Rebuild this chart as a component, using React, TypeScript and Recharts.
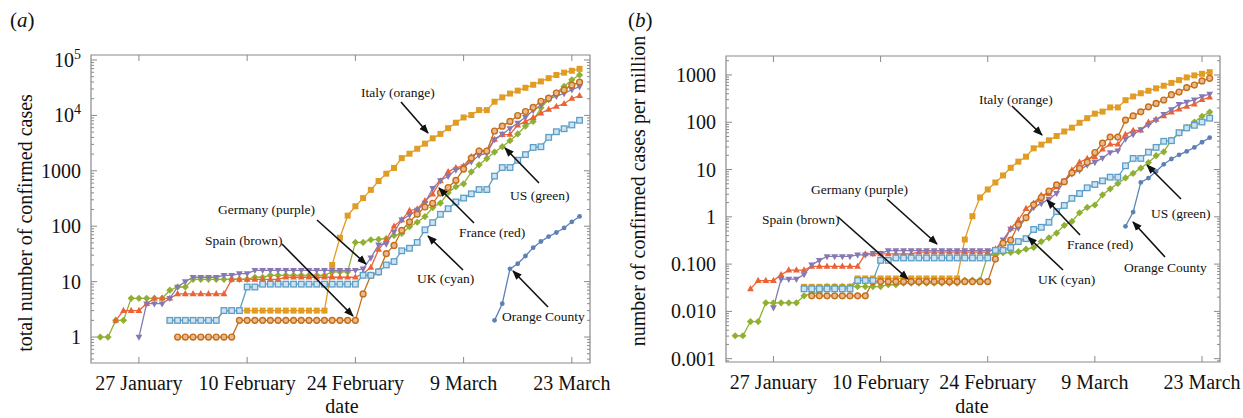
import { Line, LineChart, ReferenceArea, XAxis, YAxis } from "recharts"

const _ = null

// day index 0 = 22 January 2020 ... 62 = 24 March 2020
const DAYS = Array.from({ length: 63 }, (v, i) => i)

const X_TICKS = [5, 19, 33, 47, 61]
const X_LABELS = ["27 January", "10 February", "24 February", "9 March", "23 March"]

// ---- total confirmed cases ----
const OC_TOTAL = [
  _, _, _, _, _, _, _, _, _, _,
  _, _, _, _, _, _, _, _, _, _,
  _, _, _, _, _, _, _, _, _, _,
  _, _, _, _, _, _, _, _, _, _,
  _, _, _, _, _, _, _, _, _, _,
  _, 2, 4, 17, 21, 29, 41, 53, 65, 77,
  93, 120, 150,
]
const ITALY_TOTAL = [
  _, _, _, _, _, _, _, _, _, 2,
  2, 2, 2, 2, 2, 2, 3, 3, 3, 3,
  3, 3, 3, 3, 3, 3, 3, 3, 3, 3,
  20, 62, 155, 229, 322, 453, 655, 888, 1128, 1694,
  2036, 2502, 3089, 3858, 4636, 5883, 7375, 9172, 10149, 12462,
  12462, 17660, 21157, 24747, 27980, 31506, 35713, 41035, 47021, 53578,
  59138, 63927, 69176,
]
const US_TOTAL = [
  1, 1, 2, 2, 5, 5, 5, 5, 5, 7,
  8, 8, 11, 11, 11, 11, 11, 11, 11, 11,
  12, 12, 13, 13, 13, 13, 13, 13, 13, 13,
  15, 15, 15, 51, 51, 57, 58, 60, 68, 74,
  98, 118, 149, 217, 262, 402, 518, 583, 959, 1281,
  1663, 2179, 2726, 3499, 4632, 6421, 7783, 13747, 19273, 25600,
  33276, 43847, 53740,
]
const FRANCE_TOTAL = [
  _, _, 2, 3, 3, 3, 4, 5, 5, 5,
  6, 6, 6, 6, 6, 6, 6, 11, 11, 11,
  11, 11, 11, 11, 12, 12, 12, 12, 12, 12,
  12, 12, 12, 12, 14, 18, 38, 57, 100, 130,
  191, 204, 288, 380, 656, 959, 1136, 1219, 1794, 2293,
  2293, 3681, 4496, 4532, 6683, 7715, 9124, 10970, 12758, 14463,
  16243, 20123, 22622,
]
const GERMANY_TOTAL = [
  _, _, _, _, _, 1, 4, 4, 4, 5,
  8, 10, 12, 12, 12, 12, 13, 13, 14, 14,
  16, 16, 16, 16, 16, 16, 16, 16, 16, 16,
  16, 16, 16, 16, 17, 27, 46, 48, 79, 130,
  159, 196, 262, 482, 670, 799, 1040, 1176, 1457, 1908,
  2078, 3675, 4585, 5795, 7272, 9257, 12327, 15320, 19848, 22213,
  24873, 29056, 32986,
]
const SPAIN_TOTAL = [
  _, _, _, _, _, _, _, _, _, _,
  1, 1, 1, 1, 1, 1, 1, 1, 2, 2,
  2, 2, 2, 2, 2, 2, 2, 2, 2, 2,
  2, 2, 2, 2, 6, 13, 15, 32, 45, 84,
  120, 165, 222, 259, 400, 500, 673, 1073, 1695, 2277,
  2277, 5232, 6391, 7798, 9942, 11748, 13910, 17963, 20410, 25374,
  28768, 35136, 39885,
]
const UK_TOTAL = [
  _, _, _, _, _, _, _, _, _, 2,
  2, 2, 2, 2, 2, 2, 3, 3, 3, 8,
  8, 9, 9, 9, 9, 9, 9, 9, 9, 9,
  9, 9, 9, 9, 13, 13, 15, 20, 23, 36,
  40, 51, 86, 116, 164, 207, 274, 322, 384, 459,
  459, 802, 1144, 1145, 1551, 1960, 2642, 2716, 4014, 5067,
  5745, 6726, 8164,
]

// ---- confirmed cases per million ----
const OC_PM = [
  _, _, _, _, _, _, _, _, _, _,
  _, _, _, _, _, _, _, _, _, _,
  _, _, _, _, _, _, _, _, _, _,
  _, _, _, _, _, _, _, _, _, _,
  _, _, _, _, _, _, _, _, _, _,
  _, 0.63, 1.26, 5.35, 6.61, 9.13, 12.9, 16.7, 20.5, 24.2,
  29.3, 37.8, 47.2,
]
const ITALY_PM = [
  _, _, _, _, _, _, _, _, _, 0.0331,
  0.0331, 0.0331, 0.0331, 0.0331, 0.0331, 0.0331, 0.0497, 0.0497, 0.0497, 0.0497,
  0.0497, 0.0497, 0.0497, 0.0497, 0.0497, 0.0497, 0.0497, 0.0497, 0.0497, 0.0497,
  0.331, 1.03, 2.57, 3.79, 5.33, 7.5, 10.9, 14.7, 18.7, 28.1,
  33.7, 41.5, 51.2, 63.9, 76.8, 97.5, 122, 152, 168, 206,
  206, 293, 351, 410, 464, 522, 592, 680, 779, 888,
  980, 1059, 1146,
]
const US_PM = [
  0.00305, 0.00305, 0.00609, 0.00609, 0.0152, 0.0152, 0.0152, 0.0152, 0.0152, 0.0213,
  0.0244, 0.0244, 0.0335, 0.0335, 0.0335, 0.0335, 0.0335, 0.0335, 0.0335, 0.0335,
  0.0366, 0.0366, 0.0396, 0.0396, 0.0396, 0.0396, 0.0396, 0.0396, 0.0396, 0.0396,
  0.0457, 0.0457, 0.0457, 0.155, 0.155, 0.174, 0.177, 0.183, 0.207, 0.225,
  0.299, 0.36, 0.454, 0.661, 0.798, 1.22, 1.58, 1.78, 2.92, 3.9,
  5.07, 6.64, 8.31, 10.7, 14.1, 19.6, 23.7, 41.9, 58.7, 78.0,
  101, 134, 164,
]
const FRANCE_PM = [
  _, _, 0.0299, 0.0448, 0.0448, 0.0448, 0.0597, 0.0746, 0.0746, 0.0746,
  0.0896, 0.0896, 0.0896, 0.0896, 0.0896, 0.0896, 0.0896, 0.164, 0.164, 0.164,
  0.164, 0.164, 0.164, 0.164, 0.179, 0.179, 0.179, 0.179, 0.179, 0.179,
  0.179, 0.179, 0.179, 0.179, 0.209, 0.269, 0.567, 0.851, 1.49, 1.94,
  2.85, 3.05, 4.3, 5.67, 9.79, 14.3, 17.0, 18.2, 26.8, 34.2,
  34.2, 54.9, 67.1, 67.7, 99.8, 115, 136, 164, 190, 216,
  242, 300, 338,
]
const GERMANY_PM = [
  _, _, _, _, _, 0.012, 0.0482, 0.0482, 0.0482, 0.0602,
  0.0964, 0.12, 0.145, 0.145, 0.145, 0.145, 0.157, 0.157, 0.169, 0.169,
  0.193, 0.193, 0.193, 0.193, 0.193, 0.193, 0.193, 0.193, 0.193, 0.193,
  0.193, 0.193, 0.193, 0.193, 0.205, 0.325, 0.554, 0.578, 0.952, 1.57,
  1.92, 2.36, 3.16, 5.81, 8.07, 9.62, 12.5, 14.2, 17.6, 23.0,
  25.0, 44.3, 55.2, 69.8, 87.6, 112, 148, 185, 239, 268,
  300, 350, 397,
]
const SPAIN_PM = [
  _, _, _, _, _, _, _, _, _, _,
  0.0213, 0.0213, 0.0213, 0.0213, 0.0213, 0.0213, 0.0213, 0.0213, 0.0426, 0.0426,
  0.0426, 0.0426, 0.0426, 0.0426, 0.0426, 0.0426, 0.0426, 0.0426, 0.0426, 0.0426,
  0.0426, 0.0426, 0.0426, 0.0426, 0.128, 0.277, 0.32, 0.682, 0.959, 1.79,
  2.56, 3.52, 4.73, 5.52, 8.52, 10.7, 14.3, 22.9, 36.1, 48.5,
  48.5, 111, 136, 166, 212, 250, 296, 383, 435, 541,
  613, 749, 850,
]
const UK_PM = [
  _, _, _, _, _, _, _, _, _, 0.03,
  0.03, 0.03, 0.03, 0.03, 0.03, 0.03, 0.045, 0.045, 0.045, 0.12,
  0.12, 0.135, 0.135, 0.135, 0.135, 0.135, 0.135, 0.135, 0.135, 0.135,
  0.135, 0.135, 0.135, 0.135, 0.195, 0.195, 0.225, 0.3, 0.345, 0.54,
  0.6, 0.765, 1.29, 1.74, 2.46, 3.11, 4.11, 4.83, 5.76, 6.89,
  6.89, 12.0, 17.2, 17.2, 23.3, 29.4, 39.6, 40.8, 60.2, 76.0,
  86.2, 101, 122,
]

const LEFT_Y_MAJOR = [1, 10, 100, 1000, 10000, 100000]
const LEFT_Y_LABELS = ["1", "10", "100", "1000", "10^4", "10^5"]
const RIGHT_Y_MAJOR = [0.001, 0.01, 0.1, 1, 10, 100, 1000]
const RIGHT_Y_LABELS = ["0.001", "0.010", "0.100", "1", "10", "100", "1000"]

const leftRows = DAYS.map((day, i) => ({
  day,
  oc: OC_TOTAL[i],
  italy: ITALY_TOTAL[i],
  us: US_TOTAL[i],
  france: FRANCE_TOTAL[i],
  germany: GERMANY_TOTAL[i],
  spain: SPAIN_TOTAL[i],
  uk: UK_TOTAL[i],
}))
const rightRows = DAYS.map((day, i) => ({
  day,
  oc: OC_PM[i],
  italy: ITALY_PM[i],
  us: US_PM[i],
  france: FRANCE_PM[i],
  germany: GERMANY_PM[i],
  spain: SPAIN_PM[i],
  uk: UK_PM[i],
}))

// Mathematica default palette, drawn in this order
const SERIES = [
  { key: "oc", color: "#5E81B5", marker: "circle" },
  { key: "italy", color: "#E19C24", marker: "square" },
  { key: "us", color: "#8FB032", marker: "diamond" },
  { key: "france", color: "#EB6235", marker: "up" },
  { key: "germany", color: "#8778B3", marker: "down" },
  { key: "spain", color: "#C56E1A", marker: "ocircle", light: "#E9B98E" },
  { key: "uk", color: "#5D9EC7", marker: "osquare", light: "#CDE3F2" },
]

const FONT = "'Liberation Serif', 'DejaVu Serif', serif"
const FRAME = "#8a8a8a"
const XMIN = -1.2
const XMAX = 63.35

// minor log ticks between lo and hi
function logTicks(lo: number, hi: number) {
  const out: number[] = []
  for (let e = -4; e <= 6; e++) {
    for (let m = 1; m <= 9; m++) {
      const v = Number((m * Math.pow(10, e)).toPrecision(3))
      if (v >= lo && v <= hi) out.push(v)
    }
  }
  return out
}

const renderDot = (s: any) => (props: any) => {
  const { cx, cy, value, index } = props
  const k = `${s.key}-${index}`
  if (value == null || cx == null || cy == null || Number.isNaN(cy)) return <g key={k} />
  const c = s.color
  switch (s.marker) {
    case "circle":
      return <circle key={k} cx={cx} cy={cy} r={2.4} fill={c} />
    case "square":
      return <rect key={k} x={cx - 3} y={cy - 3} width={6} height={6} fill={c} />
    case "diamond":
      return <polygon key={k} points={`${cx},${cy - 3.6} ${cx + 3.6},${cy} ${cx},${cy + 3.6} ${cx - 3.6},${cy}`} fill={c} />
    case "up":
      return <polygon key={k} points={`${cx},${cy - 3.8} ${cx + 3.4},${cy + 2.3} ${cx - 3.4},${cy + 2.3}`} fill={c} />
    case "down":
      return <polygon key={k} points={`${cx},${cy + 3.8} ${cx + 3.4},${cy - 2.3} ${cx - 3.4},${cy - 2.3}`} fill={c} />
    case "ocircle":
      return <circle key={k} cx={cx} cy={cy} r={2.9} fill={s.light} stroke={c} strokeWidth={1.4} />
    default:
      return <rect key={k} x={cx - 2.8} y={cy - 2.8} width={5.6} height={5.6} fill={s.light} stroke={c} strokeWidth={1.3} />
  }
}

const makeXTick = (plotTop: number) => (props: any) => {
  const { x, y, payload } = props
  const i = X_TICKS.indexOf(payload.value)
  return (
    <g>
      <line x1={x} y1={y} x2={x} y2={y - 6} stroke={FRAME} />
      <line x1={x} y1={plotTop} x2={x} y2={plotTop + 6} stroke={FRAME} />
      <text x={x} y={y + 27} textAnchor="middle" fontFamily={FONT} fontSize={20} fill="#111">
        {X_LABELS[i]}
      </text>
    </g>
  )
}

const makeYTick = (majors: number[], labels: string[], plotRight: number) => (props: any) => {
  const { x, y, payload } = props
  const v = payload.value
  const i = majors.findIndex((m) => Math.abs(m - v) / m < 1e-6)
  const len = i >= 0 ? 6 : 3
  let label = null
  if (i >= 0) {
    const [base, sup] = labels[i].split("^")
    label = (
      <text x={x - 10} y={y} dy="0.35em" textAnchor="end" fontFamily={FONT} fontSize={20} fill="#111">
        {base}
        {sup && (
          <tspan dy={-8} fontSize={14}>
            {sup}
          </tspan>
        )}
      </text>
    )
  }
  return (
    <g>
      <line x1={x} y1={y} x2={x + len} y2={y} stroke={FRAME} />
      <line x1={plotRight} y1={y} x2={plotRight - len} y2={y} stroke={FRAME} />
      {label}
    </g>
  )
}

function Panel(props: any) {
  const { rows, width, margin, yWidth, xHeight, yDomain, yMajor, yLabels } = props
  const plotRight = width - margin.right
  return (
    <LineChart width={width} height={418} data={rows} margin={margin}>
      <XAxis
        dataKey="day"
        type="number"
        domain={[XMIN, XMAX]}
        allowDataOverflow
        ticks={X_TICKS}
        interval={0}
        height={xHeight}
        tickSize={0}
        tickMargin={0}
        axisLine={false}
        tickLine={false}
        tick={makeXTick(margin.top)}
      />
      <YAxis
        type="number"
        scale="log"
        domain={yDomain}
        allowDataOverflow
        ticks={logTicks(yDomain[0], yDomain[1])}
        interval={0}
        width={yWidth}
        tickSize={0}
        tickMargin={0}
        axisLine={false}
        tickLine={false}
        tick={makeYTick(yMajor, yLabels, plotRight)}
      />
      <ReferenceArea
        x1={XMIN}
        x2={XMAX}
        y1={yDomain[0]}
        y2={yDomain[1]}
        fill="none"
        stroke={FRAME}
        strokeWidth={1.2}
        ifOverflow="visible"
      />
      {SERIES.map((s) => (
        <Line
          key={s.key}
          type="linear"
          dataKey={s.key}
          stroke={s.color}
          strokeWidth={1.3}
          dot={renderDot(s)}
          activeDot={false}
          isAnimationActive={false}
        />
      ))}
    </LineChart>
  )
}

const NOTES = [
  // panel (a)
  { text: "Italy (orange)", tx: 361, ty: 97, x1: 401, y1: 102, x2: 428, y2: 133 },
  { text: "Germany (purple)", tx: 218, ty: 214, x1: 317, y1: 220, x2: 366, y2: 264 },
  { text: "Spain (brown)", tx: 205, ty: 245, x1: 282, y1: 244, x2: 353, y2: 316 },
  { text: "France (red)", tx: 459, ty: 237, x1: 474, y1: 223, x2: 439, y2: 188 },
  { text: "US (green)", tx: 510, ty: 200, x1: 539, y1: 183, x2: 505, y2: 148 },
  { text: "UK (cyan)", tx: 417, ty: 283, x1: 463, y1: 270, x2: 428, y2: 236 },
  { text: "Orange County", tx: 502, ty: 321, x1: 548, y1: 307, x2: 513, y2: 271 },
  // panel (b)
  { text: "Italy (orange)", tx: 979, ty: 104, x1: 1012, y1: 106, x2: 1042, y2: 135 },
  { text: "Germany (purple)", tx: 811, ty: 194, x1: 887, y1: 199, x2: 937, y2: 244 },
  { text: "Spain (brown)", tx: 762, ty: 224, x1: 838, y1: 217, x2: 908, y2: 279 },
  { text: "France (red)", tx: 1067, ty: 249, x1: 1080, y1: 235, x2: 1047, y2: 200 },
  { text: "US (green)", tx: 1151, ty: 218, x1: 1181, y1: 199, x2: 1147, y2: 165 },
  { text: "UK (cyan)", tx: 1038, ty: 284, x1: 1063, y1: 270, x2: 1028, y2: 237 },
  { text: "Orange County", tx: 1124, ty: 272, x1: 1165, y1: 257, x2: 1133, y2: 222 },
]

export default function App() {
  return (
    <div style={{ position: "absolute", left: 0, top: 0, width: 1243, height: 418, background: "#fff" }}>
      <div style={{ position: "absolute", left: 0, top: 0 }}>
        <Panel
          rows={leftRows}
          width={620}
          margin={{ top: 55, right: 30, bottom: 0, left: 0 }}
          yWidth={91}
          xHeight={55}
          yDomain={[0.34, 123000]}
          yMajor={LEFT_Y_MAJOR}
          yLabels={LEFT_Y_LABELS}
        />
      </div>
      <div style={{ position: "absolute", left: 626, top: 0 }}>
        <Panel
          rows={rightRows}
          width={617}
          margin={{ top: 56, right: 23, bottom: 0, left: 0 }}
          yWidth={100}
          xHeight={56}
          yDomain={[0.00085, 2520]}
          yMajor={RIGHT_Y_MAJOR}
          yLabels={RIGHT_Y_LABELS}
        />
      </div>
      <svg
        width={1243}
        height={418}
        style={{ position: "absolute", left: 0, top: 0, pointerEvents: "none" }}
        fontFamily={FONT}
      >
        <defs>
          <marker id="arrow" viewBox="0 0 10 10" refX="9" refY="5" markerWidth="6" markerHeight="6" orient="auto">
            <path d="M0,1 L10,5 L0,9 z" fill="#111" />
          </marker>
        </defs>
        <text x={10} y={27} fontSize={21} fill="#111">
          (<tspan fontStyle="italic">a</tspan>)
        </text>
        <text x={628} y={27} fontSize={21} fill="#111">
          (<tspan fontStyle="italic">b</tspan>)
        </text>
        <text transform="translate(25,223) rotate(-90)" textAnchor="middle" dy="0.35em" fontSize={20} fill="#111">
          total number of confirmed cases
        </text>
        <text transform="translate(638,191) rotate(-90)" textAnchor="middle" dy="0.35em" fontSize={20} fill="#111">
          number of confirmed cases per million
        </text>
        <text x={342} y={413} textAnchor="middle" fontSize={20} fill="#111">
          date
        </text>
        <text x={972} y={413} textAnchor="middle" fontSize={20} fill="#111">
          date
        </text>
        {NOTES.map((n, i) => (
          <g key={i}>
            <line x1={n.x1} y1={n.y1} x2={n.x2} y2={n.y2} stroke="#111" strokeWidth={1.6} markerEnd="url(#arrow)" />
            <text x={n.tx} y={n.ty} fontSize={13.5} fill="#111">
              {n.text}
            </text>
          </g>
        ))}
      </svg>
    </div>
  )
}
